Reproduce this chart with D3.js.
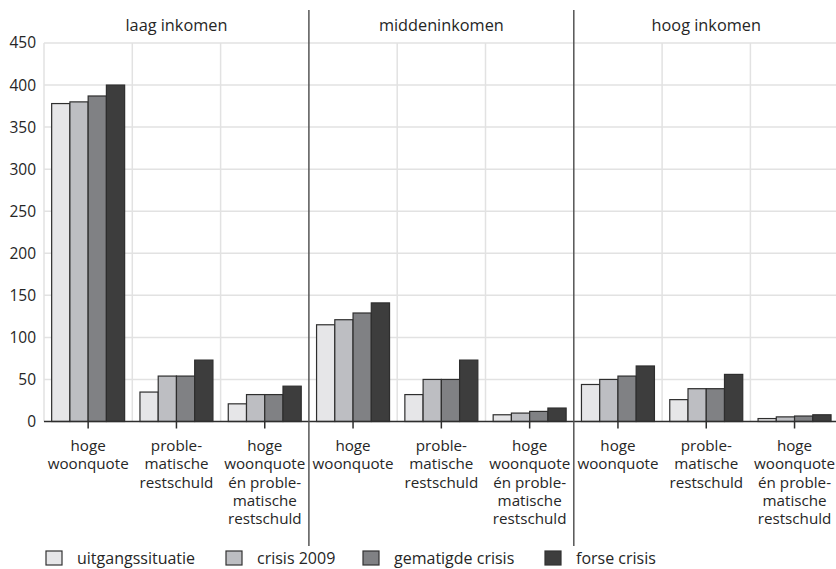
<!DOCTYPE html>
<html><head><meta charset="utf-8">
<script src="https://cdn.jsdelivr.net/npm/d3@7"></script>
<style>
body{margin:0;background:#fff;}
svg text{font-family:"Open Sans",sans-serif;fill:#262626;}
</style></head><body>
<svg id="c" width="836" height="569"></svg>
<script>
const groups = ["laag inkomen","middeninkomen","hoog inkomen"];
const categories = ["hoge woonquote","problematische restschuld","hoge woonquote én problematische restschuld"];
const categoryLines = [["hoge","woonquote"],["proble-","matische","restschuld"],["hoge","woonquote","én proble-","matische","restschuld"]];
const series = ["uitgangssituatie","crisis 2009","gematigde crisis","forse crisis"];
const colors = ["#e6e6e8","#bdbec2","#808184","#3d3d3d"];
// values[category][series] per income group
const laagValues = [[378,380,387,400],[35,54,54,73],[21,32,32,42]];
const middenValues = [[115,121,129,141],[32,50,50,73],[8,10,12,16]];
const hoogValues = [[44,50,54,66],[26,39,39,56],[3.5,5.5,6.5,8]];
const yTicks = [0,50,100,150,200,250,300,350,400,450];

const allValues = [laagValues, middenValues, hoogValues];
const svg = d3.select("#c");
const mLeft = 44, mTop = 43, mBottom = 421.5;
const bandW = 88.3;
const keys = [];
groups.forEach((g,gi)=>categories.forEach((c,ci)=>keys.push(gi+"|"+ci)));
const x = d3.scaleBand().domain(keys).range([mLeft, mLeft+bandW*keys.length]).paddingInner(0).paddingOuter(0);
const xs = d3.scaleBand().domain(series).range([0,x.bandwidth()]).paddingOuter(0.42).paddingInner(0);
const y = d3.scaleLinear().domain([0,450]).range([mBottom, mTop]);

// horizontal grid
svg.append("g").selectAll("line").data(yTicks.filter(d=>d>0)).join("line")
  .attr("x1",mLeft).attr("x2",836).attr("y1",d=>y(d)).attr("y2",d=>y(d))
  .attr("stroke","#e2e2e2").attr("stroke-width",1.5);
// vertical grid at band boundaries
svg.append("g").selectAll("line").data(keys.slice(1).filter((k,i)=>(i+1)%3!==0)).join("line")
  .attr("x1",d=>x(d)).attr("x2",d=>x(d)).attr("y1",mTop).attr("y2",mBottom)
  .attr("stroke","#e2e2e2").attr("stroke-width",1.5);
svg.append("line").attr("x1",mLeft).attr("x2",mLeft).attr("y1",mTop).attr("y2",mBottom)
  .attr("stroke","#e2e2e2").attr("stroke-width",1.5);

// y axis labels
const yAxis = d3.axisLeft(y).tickValues(yTicks).tickSize(0).tickPadding(8);
const ya = svg.append("g").attr("transform",`translate(${mLeft},0)`).call(yAxis);
ya.select(".domain").remove();
ya.selectAll("text").style("font-size","15.5px").style("font-family","'Open Sans',sans-serif").attr("fill","#262626");

// bars
const barG = svg.append("g");
allValues.forEach((gv,gi)=>gv.forEach((cv,ci)=>cv.forEach((v,si)=>{
  const k = gi+"|"+ci;
  barG.append("rect")
    .attr("x", x(k)+xs(series[si]))
    .attr("y", y(v))
    .attr("width", xs.bandwidth())
    .attr("height", y(0)-y(v))
    .attr("fill", colors[si])
    .attr("stroke","#2e2e2e").attr("stroke-width",1.2);
})));

// x axis
const xAxis = d3.axisBottom(x).tickSize(7).tickFormat("");
const xa = svg.append("g").attr("transform",`translate(0,${mBottom})`).call(xAxis);
xa.select(".domain").attr("d",`M${mLeft},0H836`).attr("stroke","#2e2e2e").attr("stroke-width",1.5);
xa.selectAll(".tick line").attr("stroke","#2e2e2e").attr("stroke-width",1.5);

// category labels
keys.forEach(k=>{
  const ci = +k.split("|")[1];
  const t = svg.append("text").attr("text-anchor","middle").style("font-size","15.2px")
    .attr("x", x(k)+x.bandwidth()/2).attr("y", 451);
  categoryLines[ci].forEach((ln,li)=>t.append("tspan").attr("x",x(k)+x.bandwidth()/2).attr("dy",li===0?0:18.3).text(ln));
});

// group separators
svg.append("g").selectAll("line").data([1,2]).join("line")
  .attr("x1",gi=>x(gi+"|0")).attr("x2",gi=>x(gi+"|0"))
  .attr("y1",10).attr("y2",546).attr("stroke","#555").attr("stroke-width",1.5);

// group titles
svg.append("g").selectAll("text").data(groups).join("text")
  .attr("x",(g,gi)=>x(gi+"|1")+x.bandwidth()/2).attr("y",31)
  .attr("text-anchor","middle").style("font-size","16.3px").text(d=>d);

// legend
const legendX = [46,226,363,545];
const lg = svg.append("g").selectAll("g").data(series).join("g")
  .attr("transform",(d,i)=>`translate(${legendX[i]},551)`);
lg.append("rect").attr("width",16).attr("height",14).attr("fill",(d,i)=>colors[i])
  .attr("stroke","#333").attr("stroke-width",1.2);
lg.append("text").attr("x",31).attr("y",12.5).style("font-size","16px").text(d=>d);
</script></body></html>
